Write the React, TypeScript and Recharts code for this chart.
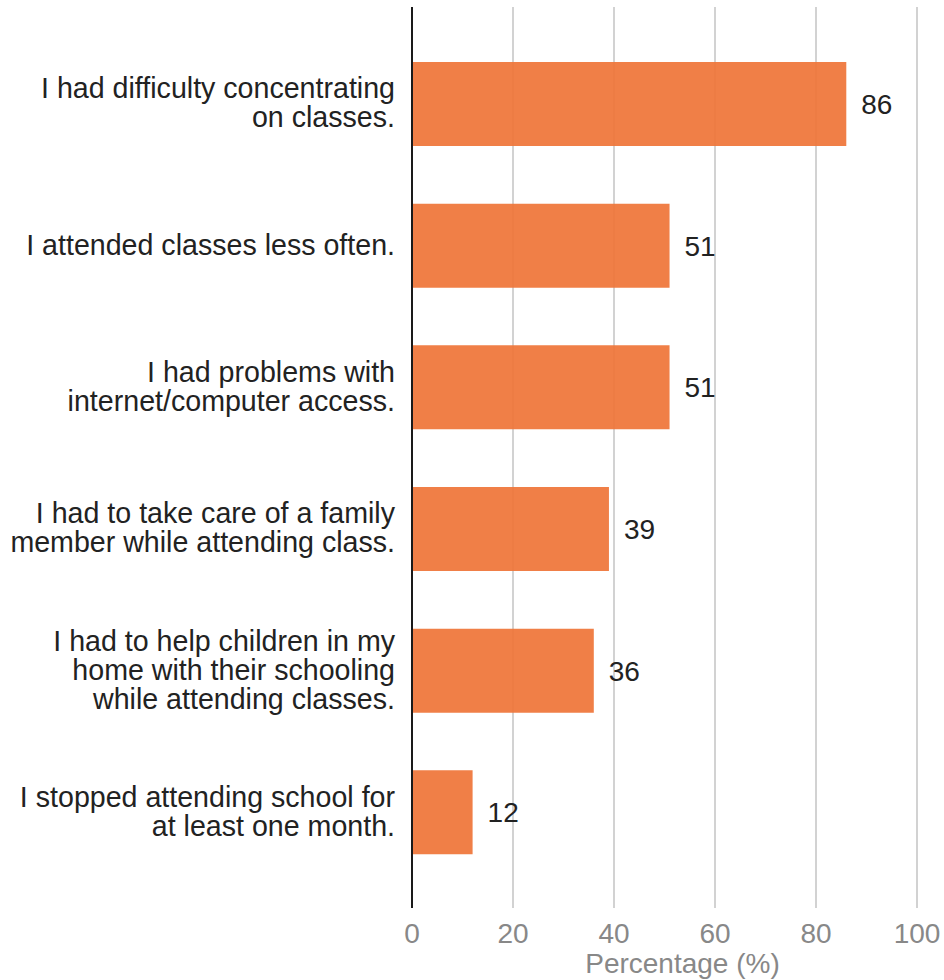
import React from "react";
import { BarChart, Bar, XAxis, YAxis, CartesianGrid, LabelList } from "recharts";

const categories = [
  "I had difficulty concentrating\non classes.",
  "I attended classes less often.",
  "I had problems with\ninternet/computer access.",
  "I had to take care of a family\nmember while attending class.",
  "I had to help children in my\nhome with their schooling\nwhile attending classes.",
  "I stopped attending school for\nat least one month.",
];
const percentages = [86, 51, 51, 39, 36, 12];
const xTicks = [0, 20, 40, 60, 80, 100];

const data = categories.map((category, i) => ({ category, value: percentages[i] }));

const FONT = "'Liberation Sans', Arial, sans-serif";

function CategoryTick(props: any) {
  const { x, y, payload } = props;
  const lines = String(payload.value).split("\n");
  const lineHeight = 29;
  const first = -((lines.length - 1) * lineHeight) / 2 + 9;
  return (
    <text x={x} y={y} textAnchor="end" fill="#222" fontSize={28.6} fontFamily={FONT}>
      {lines.map((line, i) => (
        <tspan key={i} x={x} y={y + first + i * lineHeight}>
          {line}
        </tspan>
      ))}
    </text>
  );
}

export default function App() {
  return (
    <div style={{ position: "absolute", left: 0, top: 0, background: "#fff" }}>
      <BarChart
        width={944}
        height={980}
        data={data}
        layout="vertical"
        margin={{ top: 7, right: 27, bottom: 0, left: 0 }}
      >
        <CartesianGrid horizontal={false} stroke="#d2d2d2" strokeWidth={2} />
        <XAxis
          type="number"
          domain={[0, 100]}
          ticks={xTicks}
          axisLine={false}
          tickLine={false}
          tickSize={0}
          tickMargin={15}
          height={72}
          tick={{ fill: "#888", fontSize: 28, fontFamily: FONT }}
          label={{
            value: "Percentage (%)",
            position: "insideBottom",
            offset: 7,
            dx: 18,
            fill: "#888",
            fontSize: 28,
            fontFamily: FONT,
          }}
        />
        <YAxis
          type="category"
          dataKey="category"
          width={412}
          padding={{ top: 26, bottom: 25 }}
          axisLine={{ stroke: "#1a1a1a", strokeWidth: 2 }}
          tickLine={false}
          tickSize={0}
          tickMargin={17}
          interval={0}
          tick={<CategoryTick />}
        />
        <Bar
          dataKey="value"
          fill="#ef7437"
          fillOpacity={0.92}
          barSize={84}
          isAnimationActive={false}
        >
          <LabelList
            dataKey="value"
            position="right"
            offset={15}
            fill="#222"
            fontSize={28}
            fontFamily={FONT}
          />
        </Bar>
      </BarChart>
    </div>
  );
}
